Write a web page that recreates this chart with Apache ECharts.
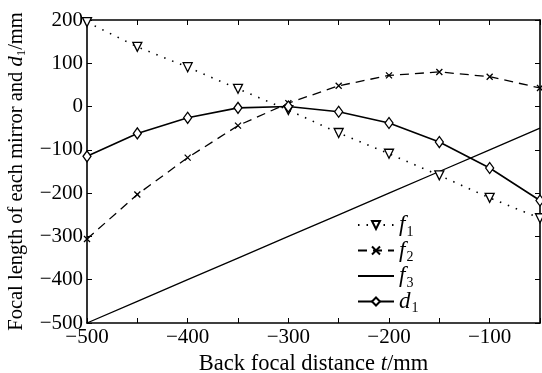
<!DOCTYPE html>
<html><head><meta charset="utf-8">
<script src="https://cdn.jsdelivr.net/npm/echarts@6/dist/echarts.min.js"></script>
<style>html,body{margin:0;padding:0;background:#fff}#c{width:542px;height:373px}</style>
</head><body><div id="c"></div>
<script>
var t = [-500, -450, -400, -350, -300, -250, -200, -150, -100, -50];
var f1 = [195, 138, 91, 41, -8, -61, -109, -159, -211, -258];
var f2 = [-306, -203, -118, -44, 8, 48, 72, 80, 69, 43];
var f3 = [-500, -450, -400, -350, -300, -250, -200, -150, -100, -50];
var d1 = [-115, -62, -26, -3, 0, -12, -38, -82, -142, -217];
var xTicks = [-500, -400, -300, -200, -100];
var yTicks = [-500, -400, -300, -200, -100, 0, 100, 200];

function pairs(ys){ return t.map(function(x,i){ return [x, ys[i]]; }); }
var FONT = '"Liberation Serif","DejaVu Serif",serif';
var fmt = function(v){ return String(v).replace('-', '\u2212'); };
var chart = echarts.init(document.getElementById('c'));
var rich = {
  i:{fontFamily:FONT, fontStyle:'italic', fontSize:23, color:'#000', lineHeight:20},
  s:{fontFamily:FONT, fontSize:14, color:'#000', padding:[14,0,0,1], lineHeight:20},
  n:{fontFamily:FONT, fontSize:20.5, color:'#000'},
  ni:{fontFamily:FONT, fontSize:20.5, fontStyle:'italic', color:'#000'},
  ns:{fontFamily:FONT, fontSize:13, color:'#000', padding:[10,0,0,0]},
  xn:{fontFamily:FONT, fontSize:22.5, color:'#000'},
  xi:{fontFamily:FONT, fontSize:22.5, fontStyle:'italic', color:'#000'}
};
var names = {f1:'{i|f}{s|1}', f2:'{i|f}{s|2}', f3:'{i|f}{s|3}', d1:'{i|d}{s|1}'};
var mk = {color:'#fff', borderColor:'#000', borderWidth:1.3};
var axLine = {onZero:false, lineStyle:{color:'#000', width:1.6}};
chart.setOption({
  animation:false,
  grid:{left:87, right:2, top:20, bottom:50, show:false, containLabel:false, outerBoundsMode:'none'},
  legend:{
    orient:'vertical', left:357, top:211, itemWidth:36, itemHeight:10, itemGap:-2.5, padding:0,
    data:['f1','f2',{name:'f3', itemStyle:{opacity:0}},'d1'],
    formatter:function(n){ return names[n]; },
    textStyle:{rich:rich, fontFamily:FONT}
  },
  xAxis:[{
    type:'value', min:-500, max:-50, interval:50,
    name:'{xn|Back focal distance }{xi|t}{xn|/mm}', nameLocation:'middle', nameGap:24,
    nameTextStyle:{rich:rich},
    axisLine:axLine,
    axisTick:{inside:true, length:5, lineStyle:{color:'#000'}},
    axisLabel:{color:'#000', fontFamily:FONT, fontSize:21, margin:4,
      formatter:function(v){ return xTicks.indexOf(v)>=0 ? fmt(v) : ''; }},
    splitLine:{show:false}
  },{
    type:'value', min:-500, max:-50, interval:50, position:'top',
    axisLine:axLine,
    axisTick:{inside:true, length:5, lineStyle:{color:'#000'}},
    axisLabel:{show:false}, splitLine:{show:false}
  }],
  yAxis:[{
    type:'value', min:-500, max:200, interval:100,
    name:'{n|Focal length of each mirror and }{ni|d}{ns|1}{n|/mm}', nameLocation:'middle', nameGap:59,
    nameTextStyle:{rich:rich},
    axisLine:axLine,
    axisTick:{inside:true, length:5, lineStyle:{color:'#000'}},
    axisLabel:{color:'#000', fontFamily:FONT, fontSize:21, margin:4,
      formatter:function(v){ return yTicks.indexOf(v)>=0 ? fmt(v) : ''; }},
    splitLine:{show:false}
  },{
    type:'value', min:-500, max:200, interval:100, position:'right',
    axisLine:axLine,
    axisTick:{inside:true, length:5, lineStyle:{color:'#000'}},
    axisLabel:{show:false}, splitLine:{show:false}
  }],
  series:[
    {name:'f1', type:'line', data:pairs(f1), symbol:'triangle', symbolRotate:180, symbolSize:9,
     showAllSymbol:true,
     lineStyle:{color:'#000', width:1.6, type:[1.5,7]}, itemStyle:mk},
    {name:'f2', type:'line', data:pairs(f2), symbol:'path://M0,0L10,10M10,0L0,10', symbolSize:6,
     lineStyle:{color:'#000', width:1.3, type:[9,6]}, itemStyle:{color:'#000', borderColor:'#000', borderWidth:1.3}},
    {name:'f3', type:'line', data:pairs(f3), symbol:'none', lineStyle:{color:'#000', width:1.3}, itemStyle:{color:'#000'}},
    {name:'d1', type:'line', data:pairs(d1), symbol:'diamond', symbolSize:[8,11],
     lineStyle:{color:'#000', width:1.6}, itemStyle:mk}
  ]
});
</script></body></html>
